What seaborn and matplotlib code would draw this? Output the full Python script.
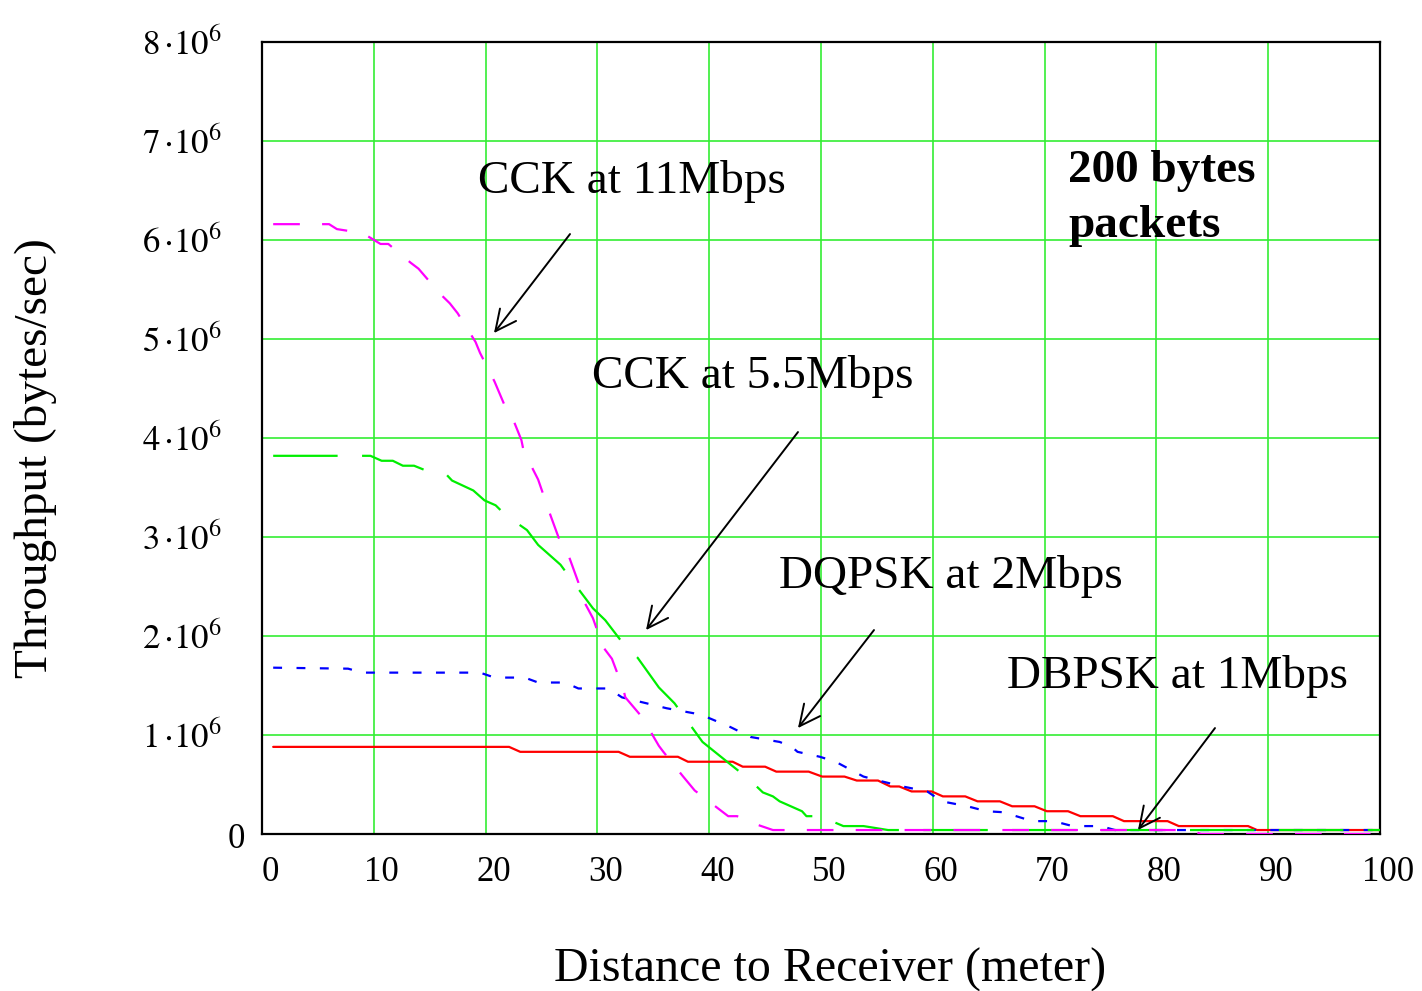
import numpy as np
import pandas as pd
import matplotlib
matplotlib.use("Agg")
import matplotlib.pyplot as plt
import matplotlib.transforms as mtransforms
import seaborn as sns

# --- data (distance in m, throughput in 1e6 bytes/sec) ---
dist_11 = [1.0, 3.8, 6.0, 6.7, 9.0, 10.6, 11.3, 13.3, 14.0, 15.9, 16.8, 17.5, 19.1, 19.5,
           20.8, 21.7, 22.2, 23.2, 23.4, 24.7, 25.8, 26.9, 27.4, 28.3, 28.7, 29.6, 30.5,
           31.3, 32.3, 32.5, 34.0, 35.5, 35.9, 37.6, 38.7, 39.5, 41.7, 42.5, 44.4, 45.7,
           83.0, 84.0, 100.0]
thr_11 = [6.16, 6.16, 6.16, 6.11, 6.07, 5.96, 5.96, 5.77, 5.71, 5.46, 5.36, 5.26, 4.97, 4.86,
          4.57, 4.33, 4.26, 3.98, 3.87, 3.58, 3.22, 2.88, 2.82, 2.54, 2.37, 2.18, 1.89,
          1.77, 1.47, 1.38, 1.18, 0.89, 0.83, 0.59, 0.44, 0.37, 0.18, 0.18, 0.09, 0.04,
          0.04, 0.0, 0.0]

dist_55 = [1.0, 9.0, 9.7, 10.7, 11.7, 12.6, 13.6, 14.7, 16.5, 17.0, 18.9, 19.9, 20.9, 21.8,
           23.7, 24.7, 26.7, 28.0, 29.6, 30.7, 32.6, 33.6, 35.5, 36.9, 39.4, 41.6, 43.6,
           44.8, 45.7, 46.3, 48.3, 48.7, 49.9, 52.0, 53.8, 56.0, 100.0]
thr_55 = [3.82, 3.82, 3.82, 3.77, 3.77, 3.72, 3.72, 3.67, 3.63, 3.57, 3.47, 3.37, 3.32, 3.22,
          3.07, 2.92, 2.72, 2.52, 2.28, 2.16, 1.88, 1.78, 1.48, 1.32, 0.93, 0.73, 0.55,
          0.42, 0.38, 0.33, 0.23, 0.18, 0.18, 0.08, 0.08, 0.04, 0.04]

dist_2 = [1.0, 7.7, 9.0, 19.5, 20.8, 23.5, 24.7, 27.1, 28.3, 31.0, 32.2, 34.4, 36.2, 38.6,
          39.8, 41.9, 43.7, 46.3, 47.4, 47.9, 49.9, 51.3, 53.8, 55.5, 57.3, 59.5, 60.8,
          63.1, 64.8, 66.3, 68.9, 70.8, 72.5, 75.0, 76.3, 100.0]
thr_2 = [1.68, 1.67, 1.63, 1.63, 1.58, 1.58, 1.53, 1.53, 1.47, 1.47, 1.38, 1.32, 1.27, 1.22,
         1.18, 1.08, 0.98, 0.93, 0.88, 0.83, 0.78, 0.73, 0.58, 0.53, 0.48, 0.43, 0.33,
         0.28, 0.23, 0.22, 0.13, 0.13, 0.08, 0.08, 0.04, 0.04]

dist_1 = [1.0, 22.1, 23.1, 31.9, 32.9, 37.2, 38.1, 42.1, 43.0, 45.0, 46.0, 48.9, 50.1, 52.1,
          53.2, 55.1, 56.2, 57.0, 58.1, 59.9, 60.9, 62.9, 64.0, 66.0, 67.1, 69.1, 70.2,
          72.1, 73.2, 76.1, 77.1, 81.0, 82.0, 88.2, 89.0, 100.0]
thr_1 = [0.88, 0.88, 0.83, 0.83, 0.78, 0.78, 0.73, 0.73, 0.68, 0.68, 0.63, 0.63, 0.58, 0.58,
         0.54, 0.54, 0.48, 0.48, 0.43, 0.43, 0.38, 0.38, 0.33, 0.33, 0.28, 0.28, 0.23,
         0.23, 0.18, 0.18, 0.13, 0.13, 0.08, 0.08, 0.04, 0.04]

x_ticks = [0, 10, 20, 30, 40, 50, 60, 70, 80, 90, 100]
y_ticks = [0, 1e6, 2e6, 3e6, 4e6, 5e6, 6e6, 7e6, 8e6]
y_tick_labels = ["0"] + [r"$%d\,{\cdot}10^{6}$" % k for k in range(1, 9)]

sns.set_style("white")
plt.rcParams["font.family"] = ["Liberation Serif", "DejaVu Serif"]
plt.rcParams["mathtext.fontset"] = "stix"
plt.rcParams["text.color"] = "black"
plt.rcParams["axes.labelcolor"] = "black"
plt.rcParams["xtick.color"] = "black"
plt.rcParams["ytick.color"] = "black"

fig = plt.figure(figsize=(14.22, 9.91), dpi=100)
ax = fig.add_axes([262 / 1422, 157 / 991, 1118 / 1422, 792 / 991])

# draw order: red, blue, green, magenta
series = [
    (dist_1, thr_1, "#ff0000", "-"),
    (dist_2, thr_2, "#0000ff", (0, (4, 6.5))),
    (dist_55, thr_55, "#00ee00", (0, (29, 11))),
    (dist_11, thr_11, "#ff00ff", (0, (12, 10))),
]
for d, t, col, ls in series:
    df = pd.DataFrame({"dist": d, "thr": np.array(t) * 1e6})
    sns.lineplot(data=df, x="dist", y="thr", ax=ax, color=col, linewidth=1.6,
                 linestyle=ls, sort=True, estimator=None, zorder=3)

ax.set_xlim(0, 100)
ax.set_ylim(0, 8e6)
ax.set_xticks(x_ticks)
ax.set_xticklabels([str(v) for v in x_ticks])
ax.set_yticks(y_ticks)
ax.set_yticklabels(y_tick_labels)
ax.tick_params(axis="both", length=0, labelsize=25, labelcolor="black")
ax.tick_params(axis="x", pad=16)
ax.tick_params(axis="y", pad=29)
ax.grid(True, color="#33ee33", linewidth=1.2, zorder=0)
ax.set_axisbelow(True)
for sp in ax.spines.values():
    sp.set_color("black")
    sp.set_linewidth(1.6)
    sp.set_visible(True)

# small label offsets as in the original
dx = mtransforms.ScaledTranslation(8 / 100, 0, fig.dpi_scale_trans)
for lab in ax.get_xticklabels():
    lab.set_transform(lab.get_transform() + dx)
ylabs = ax.get_yticklabels()
ylabs[0].set_transform(ylabs[0].get_transform() +
                       mtransforms.ScaledTranslation(23 / 100, -2 / 100, fig.dpi_scale_trans))

ax.set_xlabel("Distance to Receiver (meter)", fontsize=34.5, color="black")
ax.xaxis.set_label_coords(0.508, -0.144)
ax.set_ylabel("Throughput (bytes/sec)", fontsize=34, color="black")
ax.yaxis.set_label_coords(-0.183, 0.475)

# annotations
labels = ["CCK at 11Mbps", "CCK at 5.5Mbps", "DQPSK at 2Mbps", "DBPSK at 1Mbps"]
label_pos = [(19.3, 6.47e6), (29.5, 4.5e6), (46.2, 2.48e6), (66.6, 1.47e6)]
arrow_tail = [(27.55, 6.06e6), (47.94, 4.06e6), (54.74, 2.06e6), (85.24, 1.07e6)]
arrow_head = [(20.75, 5.06e6), (34.35, 2.06e6), (47.94, 1.07e6), (78.35, 0.04e6)]

for txt, pos in zip(labels, label_pos):
    ax.text(pos[0], pos[1], txt, fontsize=34, ha="left", va="baseline",
            color="black", zorder=5)
for tail, head in zip(arrow_tail, arrow_head):
    ax.annotate("", xy=head, xytext=tail,
                arrowprops=dict(arrowstyle="->,head_length=1.5,head_width=0.73",
                                color="black", lw=1.4, shrinkA=0, shrinkB=0,
                                mutation_scale=10), zorder=5)

ax.text(72.1, 6.59e6, "200 bytes", fontsize=34, fontweight="bold",
        ha="left", va="baseline", color="black", zorder=5)
ax.text(72.1, 6.03e6, "packets", fontsize=34, fontweight="bold",
        ha="left", va="baseline", color="black", zorder=5)

fig.savefig("out.png", dpi=100)
